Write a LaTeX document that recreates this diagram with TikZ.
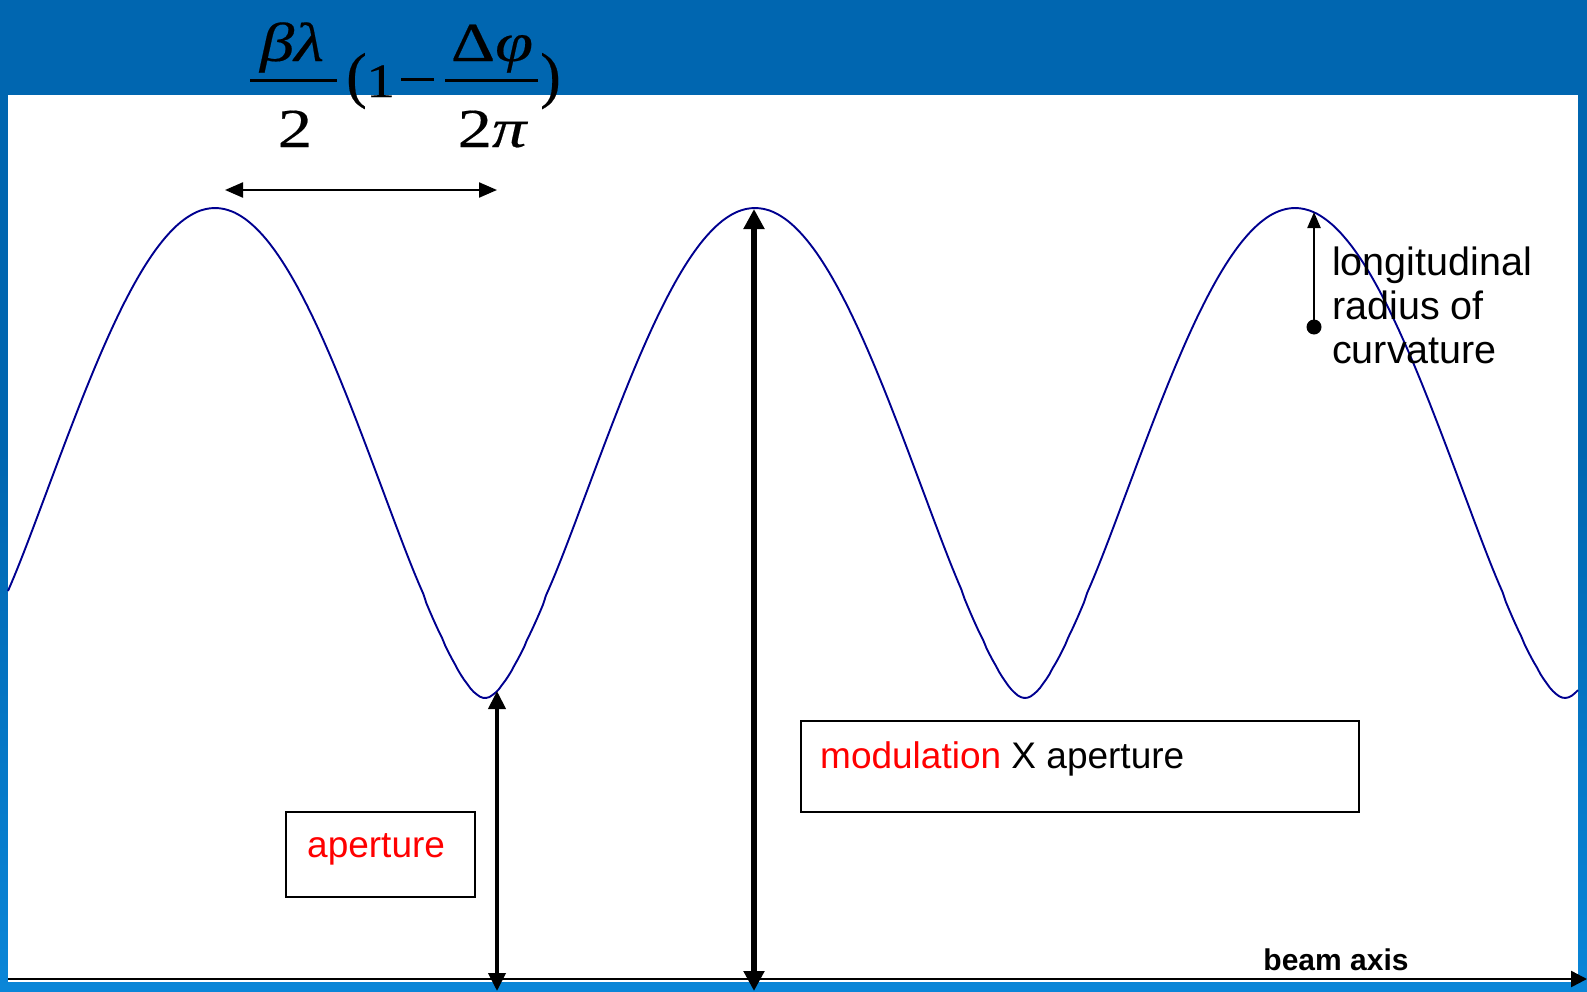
\documentclass[tikz,border=0pt]{standalone}
\usepackage{graphicx}
\usepackage{fontspec}
\setmainfont{Liberation Sans}
\newfontfamily\serifm[FakeBold=0.3]{Liberation Serif}
\usetikzlibrary{arrows.meta}
\definecolor{bandblue}{HTML}{0066B0}
\definecolor{lightblue}{HTML}{0A86D8}
\definecolor{curveblue}{HTML}{000090}
\definecolor{labelred}{HTML}{FF0000}
\tikzset{
  curvestyle/.style={draw=curveblue, line width=1.9bp},
  dimarrow/.style={{Triangle[length=18bp,width=15bp]}-{Triangle[length=18bp,width=15bp]}, line width=2.2bp},
  aparrow/.style={{Triangle[length=18bp,width=17bp]}-{Triangle[length=18bp,width=17bp]}, line width=4bp},
  bigarrow/.style={{Triangle[length=20bp,width=20bp]}-{Triangle[length=20bp,width=20bp]}, line width=6bp},
  curvarrow/.style={-{Triangle[length=16bp,width=13bp]}, line width=2.2bp},
  axisarrow/.style={-{Triangle[length=16bp,width=16bp]}, line width=2.5bp},
  boxstyle/.style={draw=black, line width=2bp, fill=white, inner sep=0pt},
  lbl/.style={font=\fontsize{37bp}{44bp}\selectfont, inner sep=0pt},
  lblbig/.style={font=\fontsize{39.5bp}{44bp}\selectfont, inner sep=0pt},
  formula/.style={font=\serifm\fontsize{55bp}{60bp}\selectfont, inner sep=0pt},
  formulaparen/.style={font=\serifm\fontsize{62bp}{66bp}\selectfont, inner sep=0pt},
  formulasmall/.style={font=\serifm\fontsize{48bp}{52bp}\selectfont, inner sep=0pt},
  fracbar/.style={line width=3bp}
}
\begin{document}
\begin{tikzpicture}[x=1bp,y=-1bp]
\useasboundingbox (0,0) rectangle (1587,991);
% background
\fill[bandblue] (0,0) rectangle (1587,991);
\shade[top color=bandblue, bottom color=lightblue] (0,450) rectangle (1587,991);
\fill[white] (8,95) rectangle (1578,982);

% formula
\node[formula, anchor=base] (num1) at (292,61) {\scalebox{1.25}[1]{\itshape βλ}};
\draw[fracbar] (250,80) -- (337,80);
\node[formula, anchor=base] (den1) at (295,147) {\scalebox{1.25}[1]{2}};
\node[formulaparen, anchor=base west] (lpar) at (346,96) {(};
\node[formulasmall, anchor=base west] (one) at (366,97) {\scalebox{1.2}[1]{1}};
\node[formulasmall, anchor=base west] (minus) at (401,97) {\rule[16.5bp]{33bp}{3bp}};
\node[formula, anchor=base] (num2) at (492,61) {\scalebox{1.25}[1]{Δ\itshape φ}};
\draw[fracbar] (445,80) -- (538,80);
\node[formula, anchor=base] (den2) at (492,147) {\scalebox{1.25}[1]{2\itshape π}};
\node[formulaparen, anchor=base west] (rpar) at (540,96) {)};

% curve
\draw[curvestyle] plot[domain=8:1578,samples=500] (\x,{698-490*(pow((1+cos(2*(\x-215)/3))/2+0.006,0.72)-0.0251)/0.9792});

% coordinates
\coordinate (dimL) at (225,190);
\coordinate (dimR) at (497,190);
\coordinate (tr1) at (497,691);
\coordinate (ax1) at (497,991);
\coordinate (pk2) at (754,209);
\coordinate (ax2) at (754,991);
\coordinate (pk3) at (1314,212);
\coordinate (axL) at (8,979);
\coordinate (axR) at (1587,979);

% arrows
\draw[dimarrow] (dimL) -- (dimR);
\draw[axisarrow] (axL) -- (axR);
\draw[aparrow] (ax1) -- (tr1);
\draw[bigarrow] (ax2) -- (pk2);
\node[circle, fill=black, inner sep=0pt, minimum size=15bp] (dot) at (1314,327) {};
\draw[curvarrow] (dot.center) -- (pk3);

% labels
\node[lblbig, anchor=north west, align=left] (curvtext) at (1332,247) {longitudinal\\radius of\\curvature};
\node[boxstyle, minimum width=189bp, minimum height=85bp, anchor=north west] (apbox) at (285,811) {};
\node[lbl, anchor=base west, text=labelred] (aptext) at (307,857) {aperture};
\node[boxstyle, minimum width=558bp, minimum height=91bp, anchor=north west] (modbox) at (800,720) {};
\node[lbl, anchor=base west] (modtext) at (820,768) {\textcolor{labelred}{modulation} X aperture};
\node[anchor=base, inner sep=0pt, font=\bfseries\fontsize{30bp}{34bp}\selectfont] (beamtext) at (1336,970) {beam axis};
\end{tikzpicture}
\end{document}
